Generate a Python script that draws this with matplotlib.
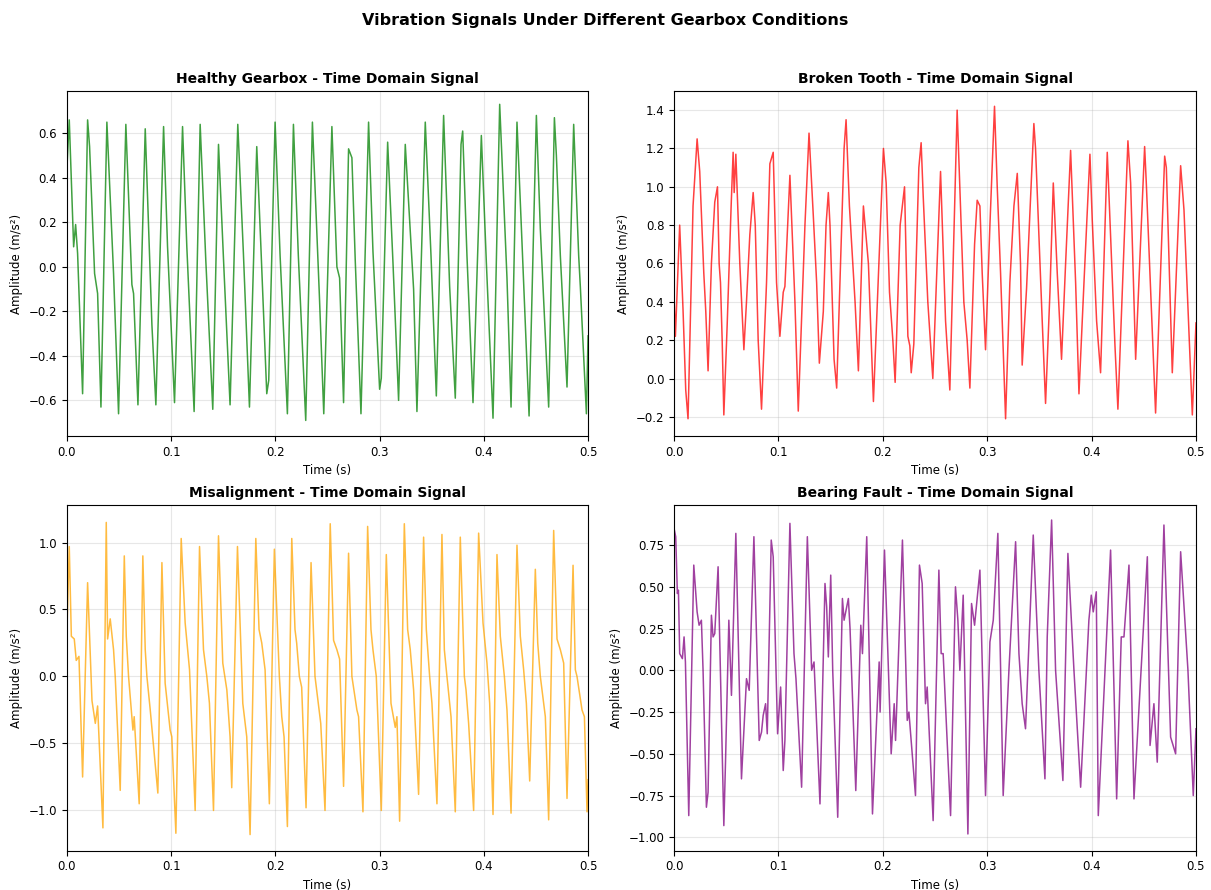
import numpy as np
import matplotlib
matplotlib.use("Agg")
import matplotlib.pyplot as plt

# values (time in ms, amplitude in m/s^2)
healthy_t = [0.0, 2.2, 6.4, 8.3, 10.2, 15.0, 19.8, 21.7, 26.5, 29.4, 32.6, 38.3, 44.7, 49.5,
             56.5, 62.3, 63.9, 68.1, 75.1, 81.5, 85.3, 92.7, 96.5, 103.2, 110.9, 115.0, 122.0,
             127.8, 133.2, 139.9, 145.4, 150.8, 156.5, 163.9, 169.3, 175.1, 182.1, 185.9, 191.7,
             193.6, 199.7, 204.5, 211.5, 217.3, 222.0, 229.1, 235.5, 242.2, 246.4, 254.2, 259.0,
             261.6, 265.4, 270.2, 273.4, 276.6, 282.1, 289.4, 293.6, 300.0, 301.6, 307.7, 312.8,
             318.2, 324.6, 331.0, 332.6, 335.8, 343.8, 349.3, 354.4, 361.4, 367.2, 372.6, 378.1,
             379.7, 383.8, 389.6, 397.6, 402.4, 408.8, 415.2, 422.2, 426.1, 431.8, 436.6, 443.4,
             450.4, 454.2, 462.2, 467.7, 469.6, 473.4, 479.8, 486.2, 491.0, 492.6, 498.4, 500.0]
healthy_a = [0.45, 0.66, 0.09, 0.19, 0.06, -0.57, 0.66, 0.54, -0.03, -0.12, -0.63, 0.65, -0.03, -0.66,
             0.64, -0.08, -0.12, -0.62, 0.62, -0.26, -0.62, 0.63, 0.09, -0.61, 0.63, 0.09, -0.65,
             0.64, 0.03, -0.64, 0.55, -0.03, -0.62, 0.64, 0.06, -0.63, 0.54, 0.11, -0.57,
             -0.51, 0.65, 0.05, -0.66, 0.64, 0.05, -0.69, 0.65, -0.13, -0.66, 0.63, 0.0,
             -0.05, -0.61, 0.53, 0.49, 0.03, -0.66, 0.65, 0.07, -0.55, -0.50, 0.56, 0.02,
             -0.60, 0.55, 0.03, -0.10, -0.65, 0.65, 0.05, -0.58, 0.68, -0.09, -0.59, 0.55,
             0.61, 0.05, -0.61, 0.59, 0.02, -0.68, 0.73, -0.05, -0.63, 0.65, 0.11, -0.67,
             0.68, 0.17, -0.63, 0.67, 0.50, 0.05, -0.54, 0.64, 0.05, -0.09, -0.66, -0.31]

broken_t = [0.0, 1.3, 5.4, 8.6, 11.2, 13.4, 18.2, 22.1, 24.6, 28.5, 30.4, 32.6, 35.8, 39.0, 41.6,
            43.2, 44.5, 46.1, 47.7, 50.9, 54.7, 56.6, 57.6, 59.2, 63.0, 65.6, 66.9, 69.4, 72.6,
            75.8, 77.8, 80.6, 83.8, 88.6, 91.8, 95.0, 98.2, 101.4, 104.6, 106.2, 111.0, 115.8,
            119.0, 125.4, 129.3, 133.4, 136.6, 139.2, 143.0, 145.6, 147.8, 149.4, 153.3, 155.8,
            160.6, 162.9, 164.8, 168.0, 173.4, 176.6, 181.4, 186.2, 191.0, 200.6, 203.2, 206.4,
            209.6, 211.8, 216.6, 220.8, 224.0, 225.9, 227.2, 229.7, 234.5, 236.7, 238.7, 239.9,
            243.1, 247.9, 255.3, 260.1, 264.2, 271.2, 273.8, 277.6, 280.8, 283.4, 287.9, 290.4,
            293.0, 295.2, 298.4, 302.6, 307.0, 309.6, 312.8, 317.6, 321.7, 325.6, 328.8, 331.9,
            333.5, 337.7, 344.7, 346.3, 352.7, 355.9, 360.1, 363.3, 367.1, 371.2, 375.1, 379.9,
            384.7, 387.9, 392.7, 398.4, 400.6, 404.8, 408.6, 415.0, 422.4, 425.2, 434.8, 437.4,
            442.2, 450.8, 452.4, 461.3, 470.0, 471.6, 477.3, 485.3, 488.5, 496.5, 500.0]
broken_a = [0.43, 0.22, 0.80, 0.36, -0.06, -0.21, 0.90, 1.25, 1.08, 0.55, 0.35, 0.04, 0.60, 0.92, 1.00,
            0.60, 0.50, 0.20, -0.19, 0.28, 0.90, 1.18, 0.97, 1.17, 0.60, 0.30, 0.15, 0.40, 0.75,
            0.97, 0.80, 0.20, -0.16, 0.50, 1.12, 1.18, 0.50, 0.22, 0.45, 0.48, 1.06, 0.40,
            -0.17, 0.80, 1.28, 0.85, 0.50, 0.08, 0.35, 0.80, 0.97, 0.80, 0.10, -0.05,
            0.80, 1.20, 1.35, 0.90, 0.40, 0.04, 0.90, 0.60, -0.12, 1.20, 1.02, 0.45,
            0.20, -0.02, 0.80, 1.00, 0.22, 0.17, 0.03, 0.18, 1.10, 1.23, 0.95, 0.80,
            0.40, 0.00, 1.08, 0.30, -0.06, 1.40, 1.00, 0.40, 0.20, -0.05, 0.70, 0.93,
            0.90, 0.55, 0.15, 0.80, 1.42, 1.00, 0.55, -0.21, 0.50, 0.90, 1.07, 0.60,
            0.07, 0.47, 1.33, 1.20, 0.30, -0.13, 0.45, 1.02, 0.55, 0.10, 0.60, 1.19,
            0.50, -0.08, 0.50, 1.17, 0.83, 0.30, 0.03, 1.18, 0.17, -0.16, 1.24, 1.02,
            0.10, 1.21, 1.02, -0.18, 1.16, 1.10, 0.03, 1.11, 0.88, -0.19, 0.29]

misalign_t = [0.0, 2.2, 4.2, 7.0, 8.9, 11.5, 15.0, 19.8, 24.0, 27.2, 29.4, 34.5, 37.7, 39.0, 41.5,
              44.7, 46.3, 51.1, 55.0, 56.9, 59.1, 63.3, 64.5, 69.3, 72.8, 75.1, 76.7, 79.9, 87.2,
              91.1, 94.2, 99.0, 100.6, 104.5, 109.6, 113.4, 117.6, 123.0, 127.2, 131.0, 134.2,
              136.7, 140.6, 145.4, 149.5, 153.4, 156.5, 158.1, 163.6, 168.7, 172.5, 175.7, 181.2,
              184.3, 186.9, 190.1, 194.2, 199.0, 203.8, 206.1, 208.3, 211.5, 215.7, 218.8, 220.4,
              223.0, 225.2, 229.4, 234.2, 238.0, 239.6, 243.5, 247.6, 252.6, 255.8, 259.0, 261.6,
              265.4, 270.2, 273.4, 278.2, 279.8, 284.0, 288.5, 291.7, 293.6, 296.8, 301.6, 306.4,
              310.9, 315.0, 316.6, 319.2, 323.7, 326.9, 329.4, 332.6, 337.4, 342.2, 344.8, 348.0,
              350.2, 355.0, 359.8, 362.1, 364.6, 368.5, 372.6, 377.4, 381.3, 382.9, 385.4, 390.2,
              395.0, 399.2, 403.0, 405.6, 408.8, 412.6, 415.8, 419.7, 422.2, 426.1, 431.8, 435.0,
              438.2, 440.8, 444.0, 449.4, 451.7, 454.2, 459.0, 462.2, 467.0, 470.2, 473.4, 476.6,
              479.8, 485.6, 487.8, 489.4, 494.2, 496.5, 499.0, 500.0]
misalign_a = [0.35, 0.97, 0.30, 0.28, 0.12, 0.15, -0.75, 0.70, -0.18, -0.35, -0.22, -1.13, 1.15, 0.28, 0.43,
              0.20, 0.00, -0.85, 0.90, 0.30, 0.00, -0.40, -0.30, -0.95, 0.90, 0.20, 0.00, -0.25, -0.87,
              0.85, -0.05, -0.40, -0.45, -1.17, 1.03, 0.40, 0.05, -1.00, 0.97, 0.20, 0.00,
              -0.20, -1.00, 1.05, 0.10, -0.10, -0.45, -0.83, 0.97, -0.20, -0.45, -1.18, 1.03,
              0.35, 0.25, 0.05, -0.95, 0.95, 0.00, -0.30, -0.45, -1.12, 1.03, 0.35, 0.25,
              0.00, -0.08, -0.98, 0.85, 0.00, -0.10, -0.35, -1.00, 1.14, 0.27, 0.20, 0.13,
              -0.82, 0.92, 0.00, -0.25, -0.30, -1.01, 1.12, 0.35, 0.20, 0.00, -1.00, 0.91,
              -0.20, -0.38, -0.30, -1.08, 1.14, 0.35, 0.20, -0.10, -0.88, 1.04, 0.35, 0.00,
              -0.20, -0.95, 1.06, 0.20, 0.00, -0.30, -1.01, 1.04, 0.00, -0.10, -0.35, -1.00,
              1.07, 0.40, 0.10, -0.20, -1.03, 0.91, 0.30, 0.00, -0.25, -1.02, 0.98, 0.30,
              0.05, -0.20, -0.78, 0.80, 0.25, 0.00, -0.30, -1.07, 1.09, 0.28, 0.20, 0.10,
              -0.91, 0.83, 0.05, 0.00, -0.25, -0.30, -1.01, -0.77]

bearing_t = [0.0, 1.6, 3.2, 4.2, 5.4, 8.0, 9.6, 10.9, 14.1, 18.9, 22.1, 24.0, 26.2, 27.8, 31.0, 32.6,
             35.8, 37.4, 39.0, 42.2, 47.7, 49.3, 52.5, 55.0, 56.6, 59.2, 64.6, 69.4, 72.0, 76.5,
             81.6, 83.8, 85.4, 87.7, 89.3, 93.1, 95.0, 99.2, 102.1, 104.6, 106.2, 111.0, 114.9,
             116.8, 122.2, 127.7, 131.8, 134.1, 139.8, 144.6, 146.2, 147.8, 150.1, 152.0, 156.8,
             161.3, 162.9, 167.0, 168.6, 174.1, 178.9, 180.5, 184.6, 190.1, 196.5, 197.4, 201.6,
             208.0, 210.9, 212.2, 218.8, 223.4, 225.0, 231.3, 235.1, 237.7, 240.9, 242.5, 248.2,
             253.7, 255.9, 257.8, 264.9, 269.6, 271.9, 273.8, 277.0, 281.5, 285.0, 287.9, 293.0,
             298.4, 302.6, 305.8, 310.2, 315.3, 320.8, 327.2, 330.4, 333.5, 336.7, 344.1, 349.5,
             355.3, 357.5, 361.7, 365.5, 372.5, 377.3, 383.1, 389.5, 397.4, 399.7, 401.6, 404.5,
             406.4, 418.2, 424.0, 428.4, 431.0, 435.8, 440.6, 453.4, 456.0, 459.7, 462.9, 469.3,
             475.7, 480.5, 485.3, 492.3, 497.4, 500.0]
bearing_a = [0.85, 0.80, 0.46, 0.48, 0.10, 0.07, 0.20, 0.05, -0.87, 0.63, 0.35, 0.27, 0.30, 0.00, -0.82, -0.73,
             0.33, 0.20, 0.22, 0.62, -0.93, -0.55, 0.30, -0.15, 0.22, 0.82, -0.65, -0.05, -0.12, 0.80,
             -0.42, -0.37, -0.27, -0.20, -0.38, 0.78, 0.68, -0.38, -0.10, -0.60, -0.42, 0.88, 0.10,
             -0.05, -0.70, 0.80, 0.00, 0.05, -0.80, 0.52, 0.38, 0.08, 0.57, 0.00, -0.88,
             0.43, 0.30, 0.43, 0.25, -0.72, 0.27, 0.10, 0.80, -0.86, 0.05, -0.25, 0.72,
             -0.50, -0.20, -0.42, 0.78, -0.30, -0.25, -0.75, 0.63, 0.52, -0.20, -0.10, -0.90,
             0.60, 0.10, 0.10, -0.87, 0.50, 0.30, 0.00, 0.45, -0.98, 0.40, 0.27, 0.60,
             -0.75, 0.17, 0.30, 0.82, -0.75, 0.00, 0.77, 0.10, -0.20, -0.35, 0.81, 0.00,
             -0.65, 0.20, 0.90, 0.00, -0.66, 0.70, 0.00, -0.70, 0.30, 0.45, 0.35, 0.47,
             -0.87, 0.72, -0.77, 0.20, 0.20, 0.63, -0.77, 0.68, -0.45, -0.20, -0.55, 0.87,
             -0.40, -0.50, 0.71, 0.00, -0.75, -0.35]

panels = [
    ("Healthy Gearbox - Time Domain Signal", healthy_t, healthy_a, "green", (-0.76, 0.79)),
    ("Broken Tooth - Time Domain Signal", broken_t, broken_a, "red", (-0.30, 1.50)),
    ("Misalignment - Time Domain Signal", misalign_t, misalign_a, "orange", (-1.30, 1.28)),
    ("Bearing Fault - Time Domain Signal", bearing_t, bearing_a, "purple", (-1.08, 0.99)),
]

fig = plt.figure(figsize=(12.11, 8.9), dpi=100)
boxes = [
    [0.0553, 0.5101, 0.4303, 0.3877],
    [0.5566, 0.5101, 0.4310, 0.3877],
    [0.0553, 0.0442, 0.4303, 0.3884],
    [0.5566, 0.0442, 0.4310, 0.3884],
]

for box, (title, t, a, color, ylim) in zip(boxes, panels):
    ax = fig.add_axes(box)
    ax.plot(np.array(t) / 1000.0, a, color=color, linewidth=1.1, alpha=0.75)
    ax.set_xlim(0, 0.5)
    ax.set_ylim(*ylim)
    ax.set_title(title, fontsize=10, fontweight="bold")
    ax.set_xlabel("Time (s)", fontsize=8.5)
    ax.set_ylabel("Amplitude (m/s²)", fontsize=8.5)
    ax.tick_params(labelsize=8.5)
    ax.grid(True, alpha=0.3)

fig.suptitle("Vibration Signals Under Different Gearbox Conditions", fontsize=11.5,
             fontweight="bold", y=0.985)

fig.savefig("out.png", dpi=100)
